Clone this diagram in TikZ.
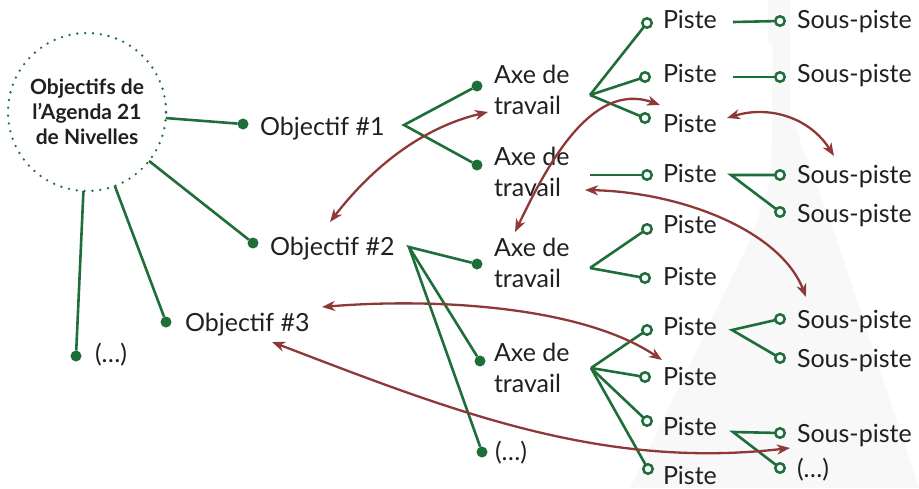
\documentclass[tikz,border=0pt]{standalone}
\usepackage{fontspec}
\setmainfont{Lato}
\usetikzlibrary{arrows.meta}
\definecolor{tgreen}{RGB}{30,110,58}
\definecolor{tred}{RGB}{143,56,56}
\definecolor{ttext}{RGB}{35,31,32}
\definecolor{wm}{RGB}{248,248,249}
\begin{document}
\begin{tikzpicture}[x=1pt,y=-1pt,
  lbl/.style={anchor=base west, inner sep=0pt, outer sep=0pt, text=ttext, font=\fontsize{25}{31}\selectfont},
  axe/.style={anchor=west, align=left, inner sep=0pt, outer sep=0pt, text=ttext, font=\fontsize{25}{31}\selectfont},
  dotn/.style={circle, fill=tgreen, minimum size=11pt, inner sep=0pt, outer sep=0pt},
  ring/.style={circle, draw=tgreen, line width=2.5pt, fill=white, minimum size=9.5pt, inner sep=0pt, outer sep=0pt},
  gl/.style={draw=tgreen, line width=2.6pt},
  rl/.style={draw=tred, line width=2.3pt, {Stealth[length=13pt,width=10pt,inset=4pt]}-{Stealth[length=13pt,width=10pt,inset=4pt]}},
  hubn/.style={circle, draw=tgreen, line width=2.6pt, dash pattern=on 0pt off 7.87pt, line cap=round, minimum size=158pt, inner sep=0pt, outer sep=0pt, align=center, text=ttext, font=\fontsize{21}{25}\selectfont\bfseries}
]
\useasboundingbox (0,0) rectangle (919,488);
% faint watermark
\fill[wm] (630,488) -- (750,240) -- (771,180) -- (773,45) -- (768,42) -- (768,0) -- (790,0) -- (790,110) -- (800,140) -- (837,240) -- (919,488) -- cycle;

% hub
\node[hubn] (hub) at (87,112) {Objectifs de\\l’Agenda 21\\de Nivelles};

% objectives
\node[dotn] (d1) at (243,124) {};
\node[dotn] (d2) at (253,243) {};
\node[dotn] (d3) at (166,322) {};
\node[dotn] (d4) at (76,356) {};
\node[lbl] (o1) at (260,135) {Objectif \#1};
\node[lbl] (o2) at (270,255) {Objectif \#2};
\node[lbl] (o3) at (185,331) {Objectif \#3};
\node[lbl] (o4) at (95,362) {(…)};
\draw[gl] (hub) -- (d1);
\draw[gl] (hub) -- (d2);
\draw[gl] (hub) -- (d3);
\draw[gl] (hub) -- (d4);

% axes
\coordinate (b1) at (404,125);
\coordinate (b2) at (409,247);
\node[dotn] (e1) at (477,86) {};
\node[dotn] (e2) at (477,165) {};
\node[dotn] (e3) at (477,264) {};
\node[dotn] (e4) at (480,361) {};
\node[dotn] (e5) at (482,452) {};
\node[axe] (a1) at (494,90.25) {Axe de\\travail};
\node[axe] (a2) at (494,172.25) {Axe de\\travail};
\node[axe] (a3) at (494,263.25) {Axe de\\travail};
\node[axe] (a4) at (494,368.25) {Axe de\\travail};
\node[lbl] (a5) at (495,460) {(…)};
\draw[gl] (e1) -- (b1) -- (e2);
\draw[gl] (e3) -- (b2) -- (e4);
\draw[gl] (b2) -- (e5);

% pistes
\coordinate (c1) at (590,95);
\coordinate (c2) at (590,175);
\coordinate (c3) at (590,268);
\coordinate (c4) at (591,368);
\node[ring] (p1) at (647,23) {};
\node[ring] (p2) at (645,77) {};
\node[ring] (p3) at (645,118) {};
\node[ring] (p4) at (647,175) {};
\node[ring] (p5) at (647,229) {};
\node[ring] (p6) at (645,278) {};
\node[ring] (p7) at (647,330) {};
\node[ring] (p8) at (645,377) {};
\node[ring] (p9) at (647,421) {};
\node[ring] (p10) at (648,469) {};
\draw[gl] (c1) -- (p1);
\draw[gl] (c1) -- (p2);
\draw[gl] (c1) -- (p3);
\draw[gl] (c2) -- (p4);
\draw[gl] (c3) -- (p5);
\draw[gl] (c3) -- (p6);
\draw[gl] (c4) -- (p7);
\draw[gl] (c4) -- (p8);
\draw[gl] (c4) -- (p9);
\draw[gl] (c4) -- (p10);
\node[lbl] (t1) at (663,28) {Piste};
\node[lbl] (t2) at (663,82) {Piste};
\node[lbl] (t3) at (663,132) {Piste};
\node[lbl] (t4) at (663,182) {Piste};
\node[lbl] (t5) at (663,233) {Piste};
\node[lbl] (t6) at (663,285) {Piste};
\node[lbl] (t7) at (663,335) {Piste};
\node[lbl] (t8) at (663,385) {Piste};
\node[lbl] (t9) at (663,435) {Piste};
\node[lbl] (t10) at (663,484) {Piste};

% sous-pistes
\coordinate (q1) at (733,22);
\coordinate (q2) at (733,77);
\coordinate (q4) at (731,175);
\coordinate (q7) at (732,330);
\coordinate (q9) at (733,432);
\node[ring] (s1) at (780,21) {};
\node[ring] (s2) at (780,77) {};
\node[ring] (s3) at (780,175) {};
\node[ring] (s4) at (780,212) {};
\node[ring] (s5) at (780,319) {};
\node[ring] (s6) at (780,358) {};
\node[ring] (s7) at (780,433) {};
\node[ring] (s8) at (780,468) {};
\draw[gl] (q1) -- (s1);
\draw[gl] (q2) -- (s2);
\draw[gl] (s3) -- (q4) -- (s4);
\draw[gl] (s5) -- (q7) -- (s6);
\draw[gl] (s7) -- (q9) -- (s8);
\node[lbl] (u1) at (797,28) {Sous-piste};
\node[lbl] (u2) at (797,82) {Sous-piste};
\node[lbl] (u3) at (797,183) {Sous-piste};
\node[lbl] (u4) at (797,222) {Sous-piste};
\node[lbl] (u5) at (797,328) {Sous-piste};
\node[lbl] (u6) at (797,367) {Sous-piste};
\node[lbl] (u7) at (797,442) {Sous-piste};
\node[lbl] (u8) at (797,477) {(…)};

% red relation arrows
\coordinate (r1a) at (330,222);  \coordinate (r1b) at (488,112);
\coordinate (r2a) at (515,232);  \coordinate (r2b) at (660,105);
\coordinate (r3a) at (727,118);  \coordinate (r3b) at (834,156);
\coordinate (r4a) at (585,190);  \coordinate (r4b) at (806,297);
\coordinate (r5a) at (322,307);  \coordinate (r5b) at (662,360);
\coordinate (r6a) at (272,342);  \coordinate (r6b) at (790,448);
\draw[rl] (r1a) .. controls (370,170) and (420,128) .. (r1b);
\draw[rl] (r2a) .. controls (545,170) and (590,80) .. (r2b);
\draw[rl] (r3a) .. controls (770,105) and (810,118) .. (r3b);
\draw[rl] (r4a) .. controls (680,192) and (780,230) .. (r4b);
\draw[rl] (r5a) .. controls (430,298) and (580,305) .. (r5b);
\draw[rl] (r6a) .. controls (450,410) and (600,470) .. (r6b);
\end{tikzpicture}
\end{document}
